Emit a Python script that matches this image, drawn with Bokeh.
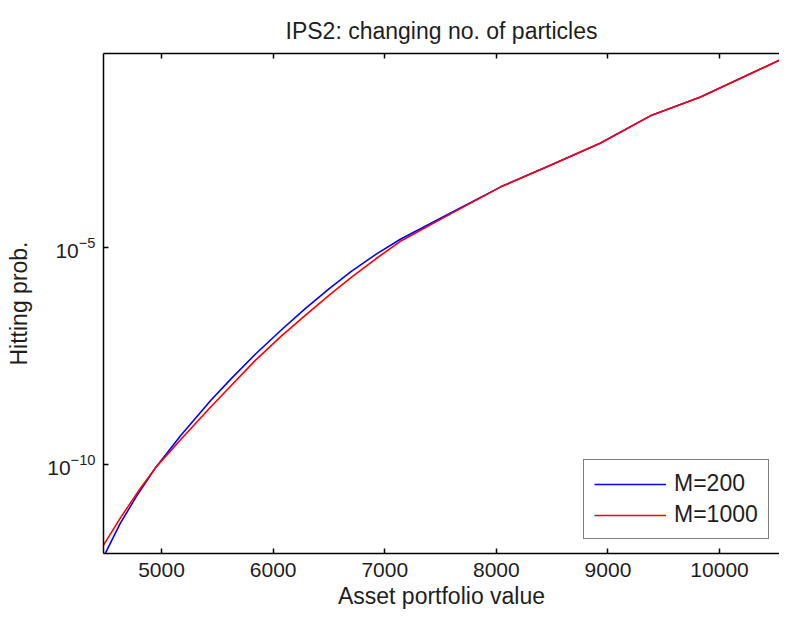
from bokeh.plotting import figure
from bokeh.models import Range1d, FixedTicker, LinearAxis, Legend, LegendItem
from bokeh.embed import file_html
from bokeh.resources import INLINE

# Asset portfolio values (x) and hitting probabilities (y)
x_m200 = [4480, 4630, 4790, 4950, 5170, 5440, 5620, 5840, 6070, 6290, 6500, 6700,
          6920, 7140, 7590, 8040, 8490, 8930, 9380, 9830, 10280, 10600]
p_m200 = [7.76e-13, 4.57e-12, 2.19e-11, 8.91e-11, 4.68e-10, 3.02e-9, 9.33e-9, 3.47e-8,
          1.23e-7, 3.89e-7, 1.10e-6, 2.75e-6, 6.76e-6, 1.51e-5, 6.03e-5, 2.40e-4,
          7.59e-4, 2.40e-3, 1.02e-2, 2.75e-2, 9.55e-2, 0.229]

x_m1000 = [4480, 4630, 4790, 4950, 5170, 5440, 5620, 5840, 6070, 6290, 6500, 6700,
           6920, 7140, 7590, 8040, 8490, 8930, 9380, 9830, 10280, 10600]
p_m1000 = [1.45e-12, 6.03e-12, 2.45e-11, 8.91e-11, 3.80e-10, 2.14e-9, 6.46e-9, 2.51e-8,
           8.91e-8, 2.75e-7, 7.76e-7, 2.00e-6, 5.37e-6, 1.35e-5, 5.75e-5, 2.40e-4,
           7.59e-4, 2.40e-3, 1.02e-2, 2.75e-2, 9.55e-2, 0.229]

x_ticks = [5000, 6000, 7000, 8000, 9000, 10000]
y_ticks = [1e-10, 1e-5]
labels = ["M=200", "M=1000"]

FONT = "Liberation Sans"
FS_TICK = "21px"
FS_TEXT = "23px"
TXT = "#1e1e1e"

p = figure(width=779, height=613,
           x_range=Range1d(4480, 10537), y_range=Range1d(9.3e-13, 0.275),
           y_axis_type="log", output_backend="svg", toolbar_location=None,
           min_border_left=103, min_border_right=0, min_border_top=53, min_border_bottom=60,
           title="IPS2: changing no. of particles")

p.title.align = "center"
p.title.text_font = FONT
p.title.text_font_size = FS_TEXT
p.title.text_font_style = "normal"
p.title.text_color = TXT
p.title.standoff = 20
p.title.text_line_height = 0.8

p.grid.visible = False
p.outline_line_color = None
p.background_fill_color = "white"
p.border_fill_color = "white"

for ax in (p.xaxis[0], p.yaxis[0]):
    ax.major_tick_in = 5
    ax.major_tick_out = 0
    ax.minor_tick_in = 0
    ax.minor_tick_out = 0
    ax.axis_line_color = "black"
    ax.axis_line_width = 1.5
    ax.major_tick_line_width = 1.5
    ax.major_tick_line_color = "black"
    ax.major_label_text_font = FONT
    ax.major_label_text_font_size = FS_TICK
    ax.major_label_text_color = TXT
    ax.axis_label_text_font = FONT
    ax.axis_label_text_font_size = FS_TEXT
    ax.axis_label_text_font_style = "normal"
    ax.axis_label_text_color = TXT

p.xaxis[0].ticker = FixedTicker(ticks=x_ticks)
p.yaxis[0].ticker = FixedTicker(ticks=y_ticks)
p.xaxis[0].axis_label = "Asset portfolio value"
p.yaxis[0].axis_label = "Hitting prob."
p.xaxis[0].major_label_standoff = 9
p.xaxis[0].axis_label_standoff = 3
p.yaxis[0].major_label_standoff = 8
p.yaxis[0].axis_label_standoff = 12

top = LinearAxis(ticker=FixedTicker(ticks=x_ticks), major_tick_in=5, major_tick_out=0,
                 minor_tick_in=0, minor_tick_out=0, axis_line_width=1.5,
                 major_tick_line_width=1.5, major_label_text_color=None,
                 major_label_text_font_size="1px", major_label_standoff=0)
p.add_layout(top, "above")

r1 = p.line(x_m200, p_m200, line_color="#0000ff", line_width=1.6)
r2 = p.line(x_m1000, p_m1000, line_color="#ff0000", line_width=1.6)

legend = Legend(items=[LegendItem(label=labels[0], renderers=[r1]),
                       LegendItem(label=labels[1], renderers=[r2])],
                location=(480, 14), orientation="vertical",
                glyph_width=72, glyph_height=16, label_height=16, label_standoff=8,
                padding=10, spacing=4, margin=0,
                border_line_color="black", border_line_width=1.2,
                background_fill_color="white", background_fill_alpha=1.0,
                label_text_font=FONT, label_text_font_size=FS_TEXT, label_text_color=TXT)
p.add_layout(legend, "center")

open("out.html", "w").write(file_html(p, INLINE))
